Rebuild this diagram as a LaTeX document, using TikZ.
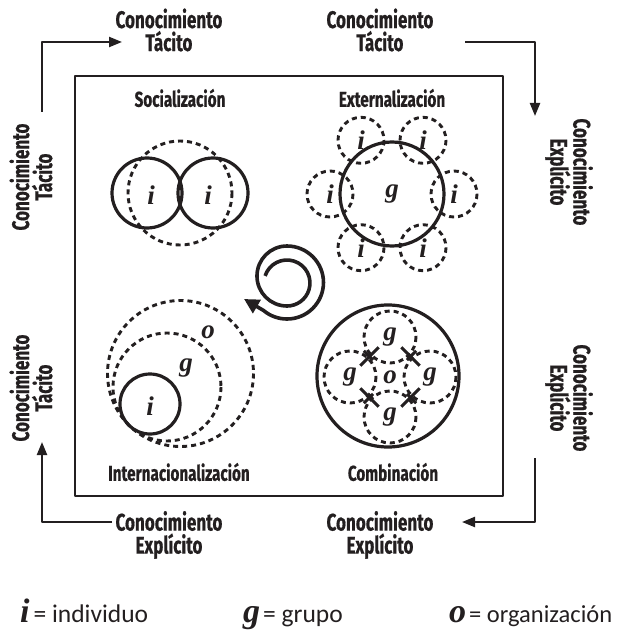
\documentclass[tikz,border=0pt]{standalone}
\usepackage{fontspec}
\usetikzlibrary{arrows.meta,calc}
\newfontfamily\labfont[FakeStretch=0.71,BoldFeatures={FakeBold=0.6}]{Fira Sans}
\newfontfamily\letfont{Liberation Serif}
\newfontfamily\legfont{Carlito}
\definecolor{ink}{HTML}{231F20}
\begin{document}
\begin{tikzpicture}[x=1pt,y=-1pt,line join=round,
  lab/.style={font=\labfont\bfseries\fontsize{24}{23}\selectfont,align=center,inner sep=0pt,text=ink},
  ttl/.style={font=\labfont\bfseries\fontsize{21.5}{22}\selectfont,inner sep=0pt,text=ink},
  let/.style={font=\letfont\bfseries\itshape\fontsize{27}{27}\selectfont,inner sep=0pt,text=ink},
  leg/.style={anchor=base west,inner sep=0pt,text=ink},
  solidc/.style={draw=ink,line width=3.2pt},
  dashc/.style={draw=ink,line width=2.9pt,dash pattern=on 5pt off 4pt},
  conn/.style={draw=ink,line width=2.2pt},
  arr/.style={conn,-{Triangle[length=13pt,width=10pt]}},
  tick/.style={draw=ink,line width=3pt}]
\useasboundingbox (0,0) rectangle (620,639);
\fill[white] (0,0) rectangle (620,639);

% frame
\draw[ink,line width=2.4pt] (75,76) rectangle (503,496);

% outer labels
\node[lab] (tTL) at (169,30) {Conocimiento\\Tácito};
\node[lab] (tTR) at (380,30) {Conocimiento\\Tácito};
\node[lab] (tBL) at (169,535) {Conocimiento\\Explícito};
\node[lab] (tBR) at (380,535) {Conocimiento\\Explícito};
\node[lab,rotate=90] (tLU) at (31,177) {Conocimiento\\Tácito};
\node[lab,rotate=90] (tLL) at (31,388) {Conocimiento\\Tácito};
\node[lab,rotate=-90] (tRU) at (569,172) {Conocimiento\\Explícito};
\node[lab,rotate=-90] (tRL) at (569,398) {Conocimiento\\Explícito};

% outer arrows
\coordinate (a1s) at (42,112);
\coordinate (a1e) at (122,42);
\coordinate (a2s) at (465,42);
\coordinate (a2e) at (535,116);
\coordinate (a3s) at (535,458);
\coordinate (a3e) at (462,522);
\coordinate (a4s) at (112,522);
\coordinate (a4e) at (42,442);
\draw[arr] (a1s) |- (a1e);
\draw[arr] (a2s) -| (a2e);
\draw[arr] (a3s) |- (a3e);
\draw[arr] (a4s) -| (a4e);

% titles
\node[ttl] (tSoc) at (180,98) {Socialización};
\node[ttl] (tExt) at (392,98) {Externalización};
\node[ttl] (tInt) at (179,472) {Internacionalización};
\node[ttl] (tCom) at (393,472) {Combinación};

% Socializacion
\draw[dashc] (180,193) circle[radius=52];
\draw[solidc] (147,193) circle[radius=35];
\draw[solidc] (213,193) circle[radius=35];
\node[let] (si1) at (151,195) {i};
\node[let] (si2) at (208,195) {i};

% Externalizacion
\coordinate (ec) at (392,194);
\foreach \a in {0,60,120,180,240,300}{
  \draw[dashc] ($(ec)+(\a:62)$) circle[radius=23];
  \node[let] (ei\a) at ($(ec)+(\a:62)$) {i};
}
\draw[solidc] (ec) circle[radius=52];
\node[let] (eg) at (ec) {g};

% Internalizacion
\draw[dashc] (180.5,373.5) circle[radius=73];
\draw[dashc] (167,387) circle[radius=54];
\draw[solidc] (150,404) circle[radius=30];
\node[let] (io) at (208,332) {o};
\node[let] (ig) at (186,368) {g};
\node[let] (ii) at (150,406) {i};

% Combinacion
\coordinate (cc) at (390,377);
\draw[solidc] (388,376) circle[radius=71];
\foreach \a in {0,90,180,270}{
  \draw[dashc] ($(cc)+(\a:40)$) circle[radius=26];
  \node[let] (cg\a) at ($(cc)+(\a:40)$) {g};
}
\foreach \a in {45,135,225,315}{
  \coordinate (m\a) at ($(cc)+(\a:29)$);
  \draw[tick] ($(m\a)+(\a+90:13)$) -- ($(m\a)+(\a-90:13)$);
  \draw[tick] ($(m\a)+(\a:8)$) -- ($(m\a)+(\a:-5)$);
}
\node[let] (co) at (cc) {o};

% spiral
\coordinate (sps) at (265.1,275.9);
\coordinate (spt) at (244,299);
\draw[draw=ink,line width=3.6pt,-{Triangle[length=15pt,width=15pt]}] (sps)
  arc[start angle=198,end angle=450,radius=23]
  arc[start angle=90,end angle=270,radius=30]
  arc[start angle=270,end angle=490,radius=36.5] -- (spt);

% legend
\node[leg] (lgi) at (20,622) {{\letfont\bfseries\itshape\fontsize{34}{34}\selectfont i}\hspace{4pt}{\legfont\fontsize{25.5}{25}\selectfont = individuo}};
\node[leg] (lgg) at (243,622) {{\letfont\bfseries\itshape\fontsize{34}{34}\selectfont g}\hspace{3pt}{\legfont\fontsize{25.5}{25}\selectfont = grupo}};
\node[leg] (lgo) at (449,622) {{\letfont\bfseries\itshape\fontsize{34}{34}\selectfont o}\hspace{3pt}{\legfont\fontsize{24.5}{25}\selectfont = organización}};
\end{tikzpicture}
\end{document}
